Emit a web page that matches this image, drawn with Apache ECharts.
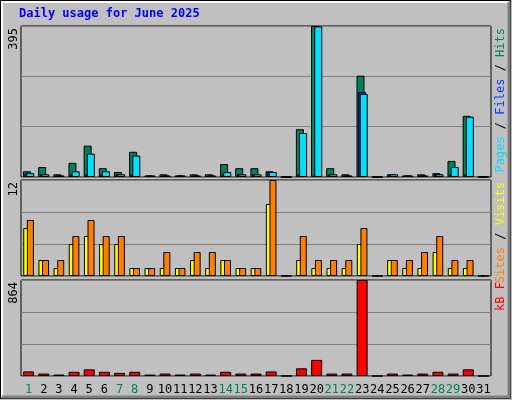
<!DOCTYPE html>
<html><head><meta charset="utf-8">
<script src="https://cdn.jsdelivr.net/npm/echarts@6/dist/echarts.min.js"></script>
<style>html,body{margin:0;padding:0;background:#c0c0c0}#c{width:512px;height:400px}</style>
</head><body><div id="c"></div>
<script>
const days = Array.from({length:31},(_,i)=>String(i+1));
const weekend = [1,7,8,14,15,21,22,28,29];
const hits  = [15,26,7,37,82,23,13,66,4,7,4,7,7,34,23,23,15,0,125,395,23,7,265,0,7,4,7,10,42,160,0];
const files = [10,7,4,7,7,7,7,7,4,4,4,4,4,7,7,7,13,0,7,4,7,4,222,0,7,4,4,7,7,7,0];
const pages = [10,7,4,15,61,15,7,56,4,4,4,4,4,13,7,7,13,0,115,394,7,4,217,0,7,4,4,7,26,158,0];
const sites = [6,2,1,4,5,4,4,1,1,1,1,2,1,2,1,1,9,0,2,1,1,1,4,0,2,1,1,3,1,1,0];
const visits= [7,2,2,5,7,5,5,1,1,3,1,3,3,2,1,1,12,0,5,2,2,2,6,0,2,2,3,5,2,2,0];
const kbytes= [41,22,13,38,60,38,28,38,13,22,13,22,13,38,22,22,41,0,69,145,22,22,864,0,22,13,22,38,22,60,0];
const maxLabels = ['395','12','864'];
const mono = '"DejaVu Sans Mono", monospace';
const tops=[26,180,280], heights=[151,96,96];
const grids = tops.map((t,i)=>({left:21,right:21,top:t,height:heights[i],show:true,backgroundColor:'#c0c0c0',borderColor:'#000',borderWidth:1}));
const maxes=[+maxLabels[0],+maxLabels[1],+maxLabels[2]];
const xAxis = [0,1,2].map(i=>({type:'category',gridIndex:i,data:days,axisTick:{show:false},axisLine:{show:false},
  axisLabel:{show:i===2,interval:0,fontFamily:mono,fontSize:12,margin:8,color:(v)=>weekend.includes(+v)?'#008060':'#000'}}));
const yAxis = [0,1,2].map(i=>({type:'value',gridIndex:i,min:0,max:maxes[i],interval:maxes[i]/3,axisLabel:{show:false},axisLine:{show:false},axisTick:{show:false},
  splitLine:{lineStyle:{color:'#808080',width:1}}}));
const bs = {borderColor:'#000',borderWidth:1};
const series=[
 {type:'bar',xAxisIndex:0,yAxisIndex:0,data:hits,barWidth:8,barGap:'-80%',itemStyle:{color:'#00805c',...bs}},
 {type:'bar',xAxisIndex:0,yAxisIndex:0,data:files,barWidth:8,barGap:'-80%',itemStyle:{color:'#0040ff',...bs}},
 {type:'bar',xAxisIndex:0,yAxisIndex:0,data:pages,barWidth:8,barGap:'-80%',itemStyle:{color:'#00e0ff',...bs}},
 {type:'bar',xAxisIndex:1,yAxisIndex:1,data:sites,barWidth:6,barGap:'-40%',itemStyle:{color:'#ffff00',...bs}},
 {type:'bar',xAxisIndex:1,yAxisIndex:1,data:visits,barWidth:7,barGap:'-40%',itemStyle:{color:'#ff8000',...bs}},
 {type:'bar',xAxisIndex:2,yAxisIndex:2,data:kbytes,barWidth:11,itemStyle:{color:'#ff0000',...bs}}
];
const graphic=[
 {type:'rect',shape:{x:0.5,y:0.5,width:510,height:398},style:{fill:'none',stroke:'#000',lineWidth:1},z:-1},
 {type:'polyline',shape:{points:[[2,397],[2,2],[509,2]]},style:{stroke:'#fff',lineWidth:2,fill:null}},
 {type:'polyline',shape:{points:[[509,2],[509,397],[2,397]]},style:{stroke:'#808080',lineWidth:3,fill:null}},
 {type:'text',left:19,top:8,style:{text:'Daily usage for June 2025',fill:'#0000ff',font:'bold 12px '+mono}},
];
tops.forEach((t,i)=>graphic.push({type:'text',x:8,y:t+2,rotation:Math.PI/2,style:{text:maxLabels[i],fill:'#000',font:'12px '+mono,align:'right',verticalAlign:'top'}}));
const rightLbl=[
 [{t:'Pages',c:'#00e0ff'},{t:' / ',c:'#000'},{t:'Files',c:'#0040ff'},{t:' / ',c:'#000'},{t:'Hits',c:'#00805c'}],
 [{t:'Sites',c:'#ff8000'},{t:' / ',c:'#000'},{t:'Visits',c:'#ffff00'}],
 [{t:'kB F',c:'#ff0000'}]];
rightLbl.forEach((parts,i)=>{
  const rich={};parts.forEach((p,j)=>rich['p'+j]={fill:p.c,font:'12px '+mono});
  graphic.push({type:'text',x:495,y:tops[i]+2,rotation:Math.PI/2,style:{text:parts.map((p,j)=>'{p'+j+'|'+p.t+'}').join(''),rich,align:'right',verticalAlign:'top',font:'12px '+mono}});
});
const ch=echarts.init(document.getElementById('c'));
ch.setOption({animation:false,backgroundColor:'#c0c0c0',grid:grids,xAxis,yAxis,series,graphic});
</script></body></html>
